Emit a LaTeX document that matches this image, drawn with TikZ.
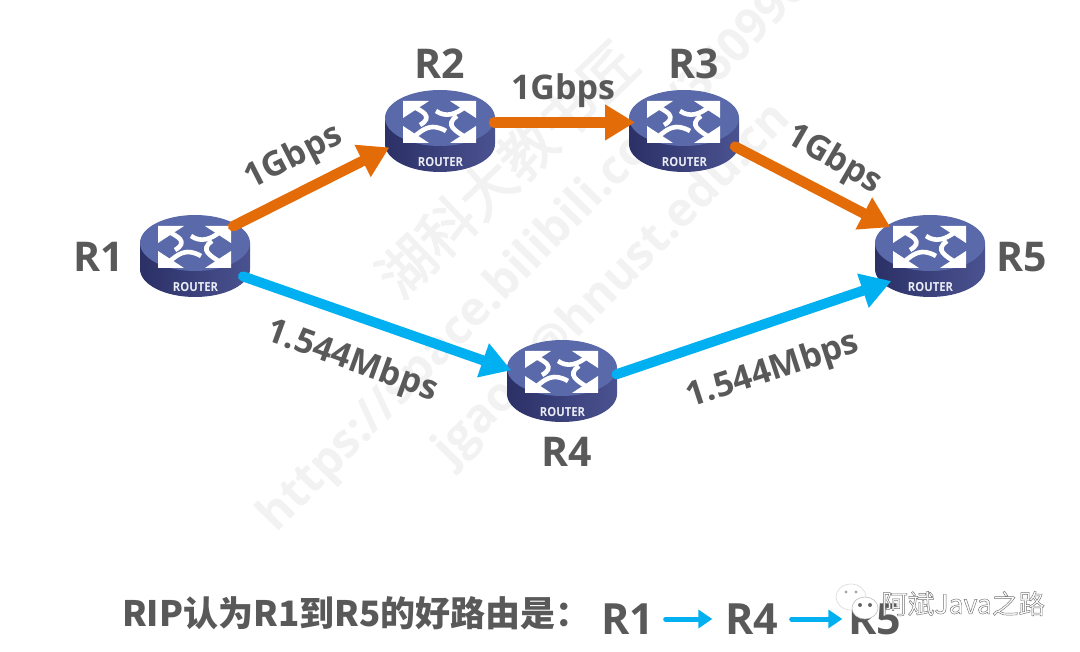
\documentclass[tikz,border=0pt]{standalone}
\usepackage{fontspec}
\setmainfont{Open Sans}
\newfontfamily\cjk{Noto Sans CJK SC}
\usetikzlibrary{arrows.meta,shapes.geometric,calc}
\definecolor{txt}{HTML}{595959}
\definecolor{orangeline}{HTML}{E36C09}
\definecolor{blueline}{HTML}{00B0F0}
\definecolor{mark}{HTML}{F2F2F2}
\definecolor{routerDark}{HTML}{2B3066}
\definecolor{routerMid}{HTML}{4A5290}
\definecolor{routerTop}{HTML}{5A69A9}
\tikzset{
 routerbox/.style={ellipse,minimum width=110pt,minimum height=82pt,inner sep=0pt},
 lbl/.style={text=txt,font=\bfseries\fontsize{41}{41}\selectfont,inner sep=0pt},
 biglbl/.style={text=txt,font=\bfseries\fontsize{43}{43}\selectfont,inner sep=0pt},
 rate/.style={text=txt,font=\bfseries\fontsize{34}{34}\selectfont,inner sep=0pt},
 wm/.style={text=mark,font=\bfseries\fontsize{47}{47}\selectfont,rotate=45.5,inner sep=0pt},
 olink/.style={draw=orangeline,line width=10.5pt,line cap=round,-{Triangle[length=30pt,width=34pt]}},
 blink/.style={draw=blueline,line width=10pt,line cap=round,-{Triangle[length=30pt,width=34pt]}},
 small/.style={draw=blueline,line width=5pt,line cap=round,-{Triangle[length=14pt,width=18pt]}},
 stem/.style={draw=white,line width=4.6pt},
 router/.pic={
  \path[left color=routerDark,right color=routerMid] (-55,-13) rectangle (55,13) (0,13) ellipse[x radius=55pt,y radius=28pt];
  \fill[routerTop] (0,-13) ellipse[x radius=55pt,y radius=28pt];
  \fill[white] (-37,-30)--(-11,-30)--(-37,-13)--cycle (36,-30)--(10,-30)--(36,-13)--cycle (-37,12)--(-11,12)--(-37,-5)--cycle (36,12)--(10,12)--(36,-5)--cycle;
  \draw[stem] (-26,-24) .. controls (-18,-20) and (-6,-14) .. (-20,-6);
  \draw[stem] (25,-24) .. controls (16,-17) and (6,-13) .. (-4,-20);
  \draw[stem] (-26,6) .. controls (-16,-3) and (-8,-8) .. (6,0);
  \draw[stem] (25,6) .. controls (16,0) and (4,-6) .. (17,-15);
  \node[text=white!88!routerTop,font=\bfseries\fontsize{12.5}{12.5}\selectfont,inner sep=0pt,xscale=.9] (-name) at (0.5,31) {ROUTER};
 }
}
\begin{document}
\begin{tikzpicture}[x=1pt,y=-1pt]
\useasboundingbox (0,0) rectangle (1080,652);
\fill[white] (0,0) rectangle (1080,652);
\begin{scope}
\clip (0,0) rectangle (1080,652);
\node[wm,font=\cjk\fontsize{56}{56}\selectfont,rotate=-1.5] (wm1) at (507,169) {\special{pdf:code 2 Tr 1.2 w 0.949 G}湖科大教书匠\special{pdf:code 0 Tr}};
\node[wm,anchor=west] (wm2) at (268,525) {https://space.bilibili.com/360996402};
\node[wm,anchor=west] (wm3) at (443,458) {jgao\hspace{38pt}@hnust.edu.cn};
\end{scope}
\node[routerbox] (r1) at (195,256) {};
\node[routerbox] (r2) at (440,131) {};
\node[routerbox] (r3) at (684,131) {};
\node[routerbox] (r4) at (562,381) {};
\node[routerbox] (r5) at (930,256) {};
\pic (p1) at (r1) {router};
\pic (p2) at (r2) {router};
\pic (p3) at (r3) {router};
\pic (p4) at (r4) {router};
\pic (p5) at (r5) {router};
\draw[olink] (r1.38) -- (r2.198);
\draw[olink] (r2.9) -- ([xshift=5pt]r3.171);
\draw[olink] (r3.343) -- (r5.144);
\draw[blink] (r1.337) -- ([xshift=4pt,yshift=5pt]r4.174);
\draw[blink] (r4.7) -- ([xshift=3pt,yshift=2pt]r5.213);
\node[lbl] (l1) at (99,257) {R1};
\node[lbl] (l2) at (440,64) {R2};
\node[lbl] (l3) at (694,64) {R3};
\node[lbl] (l4) at (567,452) {R4};
\node[lbl] (l5) at (1022,257) {R5};
\node[rate,rotate=27] (e12) at (294,158) {1Gbps};
\node[rate] (e23) at (563,91) {1Gbps};
\node[rate,rotate=-30] (e35) at (834,160) {1Gbps};
\node[rate,rotate=-20] (e14) at (352,362) {1.544Mbps};
\node[rate,rotate=18] (e45) at (773,371) {1.544Mbps};
\node[text=txt,font=\cjk\bfseries\fontsize{35}{35}\selectfont,inner sep=0pt,anchor=west] (cap) at (122,613) {RIP认为R1到R5的好路由是：};
\node[biglbl] (b1) at (628,619) {R1};
\node[biglbl] (b4) at (752,619) {R4};
\node[biglbl] (b5) at (875,619) {R5};
\draw[small,shorten <=11pt,shorten >=13pt] (b1.east) -- (b4.west);
\draw[small,shorten <=13pt,shorten >=6pt] (b4.east) -- (b5.west);
% account mark
\fill[white,draw=black!15,line width=.6pt] (851,597) ellipse[x radius=15pt,y radius=13pt];
\fill[white,draw=black!25,line width=.6pt] (865,608) ellipse[x radius=13pt,y radius=11pt];
\fill[black!35] (846,592) circle[radius=1.6pt] (856,592) circle[radius=1.6pt];
\fill[black!60] (860,605) circle[radius=2pt] (870,605) circle[radius=2pt];
\node[text=white,font=\cjk\fontsize{26.6}{26.6}\selectfont,inner sep=0pt,anchor=west] (acct) at (881,603.6) {\special{pdf:code 2 Tr 0.45 w 0.45 G}阿斌Java之路\special{pdf:code 0 Tr}};
\end{tikzpicture}
\end{document}
